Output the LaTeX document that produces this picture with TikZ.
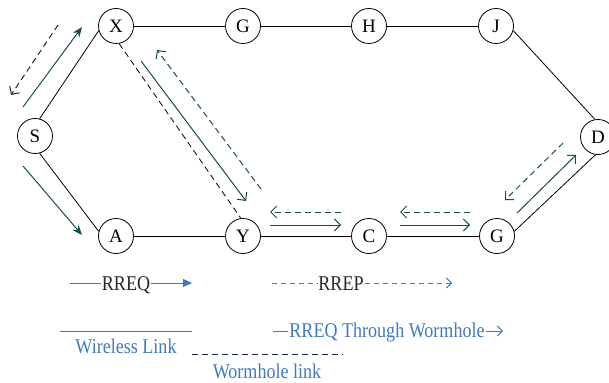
\documentclass[tikz,border=0pt]{standalone}
\usepackage{fontspec}
\setmainfont{Liberation Serif}
\newfontfamily\legfont[FakeStretch=0.86]{Liberation Serif}
\usetikzlibrary{arrows.meta}
\definecolor{teal1}{RGB}{22,78,80}
\definecolor{legblue}{RGB}{62,122,192}
\definecolor{navy1}{RGB}{25,40,70}
\begin{document}
\begin{tikzpicture}[x=1pt,y=-1pt,
  nd/.style={circle,draw,line width=0.8pt,minimum size=35pt,inner sep=0pt,font=\fontsize{19}{19}\selectfont},
  link/.style={line width=0.8pt},
  worm/.style={line width=0.8pt,dash pattern=on 6pt off 4pt},
  reqf/.style={teal1,line width=1pt,-{Stealth[length=10pt,width=8pt]}},
  reqo/.style={teal1,line width=1pt,-{Straight Barb[length=6pt,width=12pt]}},
  repo/.style={teal1,line width=1pt,dash pattern=on 6pt off 4pt,-{Straight Barb[length=6pt,width=12pt]}},
  leg/.style={legblue,line width=1pt},
  legtxt/.style={font=\legfont\fontsize{21}{21}\selectfont,inner sep=1pt,anchor=base}
]
\useasboundingbox (0,0) rectangle (609,382);
% nodes
\node[nd] (X) at (116,26) {X};
\node[nd] (G1) at (243,26) {G};
\node[nd] (H) at (369,26) {H};
\node[nd] (J) at (496,26) {J};
\node[nd] (S) at (35,136) {S};
\node[nd] (A) at (116,236) {A};
\node[nd] (Y) at (243,236) {Y};
\node[nd] (C) at (369,236) {C};
\node[nd] (G2) at (497,236) {G};
\node[nd] (D) at (598,137) {D};
% links
\draw[link] (S.75) -- (X.195);
\draw[link] (X) -- (G1);
\draw[link] (G1) -- (H);
\draw[link] (H) -- (J);
\draw[link] (J.345) -- (D.100);
\draw[link] (D.262) -- (G2.15);
\draw[link] (G2) -- (C);
\draw[link] (C) -- (Y);
\draw[link] (Y) -- (A);
\draw[link] (A.165) -- (S.285);
\draw[worm] (X.280) -- (Y.97);
% message arrows
\coordinate (sx1) at (23,107); \coordinate (sx2) at (82,27);
\draw[reqf] (sx1) -- (sx2);
\coordinate (sxr1) at (58,25); \coordinate (sxr2) at (11,95);
\draw[black!85,line width=1pt,dash pattern=on 6pt off 4pt,-{Straight Barb[length=6pt,width=12pt]}] (sxr1) -- (sxr2);
\coordinate (sa1) at (23,166); \coordinate (sa2) at (82,235);
\draw[reqf] (sa1) -- (sa2);
\coordinate (xy1) at (141,61); \coordinate (xy2) at (246,201);
\draw[reqo] (xy1) -- (xy2);
\coordinate (yx1) at (261,189); \coordinate (yx2) at (157,50);
\draw[repo] (yx1) -- (yx2);
\coordinate (yc1) at (270,225); \coordinate (yc2) at (341,225);
\draw[reqo] (yc1) -- (yc2);
\coordinate (cy1) at (341,212); \coordinate (cy2) at (270,212);
\draw[repo] (cy1) -- (cy2);
\coordinate (cg1) at (400,225); \coordinate (cg2) at (470,225);
\draw[reqo] (cg1) -- (cg2);
\coordinate (gc1) at (470,212); \coordinate (gc2) at (400,212);
\draw[repo] (gc1) -- (gc2);
\coordinate (gd1) at (517,213); \coordinate (gd2) at (576,155);
\draw[reqo] (gd1) -- (gd2);
\coordinate (dg1) at (563,143); \coordinate (dg2) at (505,200);
\draw[repo] (dg1) -- (dg2);
% legend
\node[legtxt,text=black!85] (rreq) at (126,290) {RREQ};
\coordinate (rq0) at (70,283); \coordinate (rq1) at (192,283);
\draw[leg] (rq0) -- (rq0 -| rreq.west);
\draw[leg,-{Triangle[length=9pt,width=8pt]}] (rq1 -| rreq.east) -- (rq1);
\node[legtxt,text=black!85] (rrep) at (341,290) {RREP};
\coordinate (rp0) at (272,283); \coordinate (rp1) at (452,283);
\draw[leg,dash pattern=on 5pt off 4pt] (rp0) -- (rp0 -| rrep.west);
\draw[leg,dash pattern=on 5pt off 4pt,-{Straight Barb[length=5pt,width=10pt]}] (rp1 -| rrep.east) -- (rp1);
\coordinate (wl0) at (60,331); \coordinate (wl1) at (192,331);
\draw[leg] (wl0) -- (wl1);
\node[legtxt,text=legblue] (wltxt) at (126,353) {Wireless Link};
\coordinate (wh0) at (192,354); \coordinate (wh1) at (343,354);
\draw[navy1,line width=1pt,dash pattern=on 6pt off 4pt] (wh0) -- (wh1);
\node[legtxt,text=legblue] (whtxt) at (267,378) {Wormhole link};
\node[legtxt,text=legblue] (rtw) at (387,337) {RREQ Through Wormhole};
\coordinate (rt0) at (273,331); \coordinate (rt1) at (503,331);
\draw[leg] (rt0) -- (rt0 -| rtw.west);
\draw[leg,-{Straight Barb[length=5pt,width=10pt]}] (rt1 -| rtw.east) -- (rt1);
\end{tikzpicture}
\end{document}
